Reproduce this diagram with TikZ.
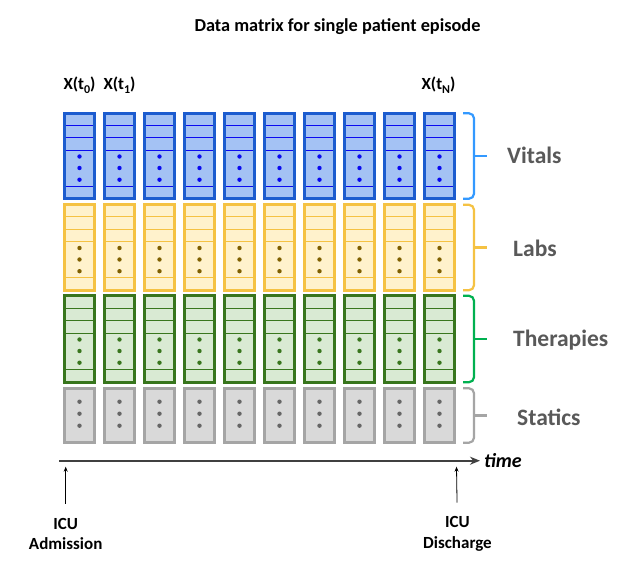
\documentclass[tikz,border=0pt]{standalone}
\usepackage{fontspec}
\setmainfont{Carlito}
\usetikzlibrary{arrows.meta,positioning,calc}
\definecolor{vitalsbg}{HTML}{A4C2F4}
\definecolor{vitalsedge}{HTML}{1C5CCF}
\definecolor{vitalsrule}{HTML}{0A0AF0}
\definecolor{vitalsbrace}{HTML}{3399FF}
\definecolor{labsbg}{HTML}{FFF2CC}
\definecolor{labsedge}{HTML}{F5C243}
\definecolor{labsdot}{HTML}{7F6000}
\definecolor{therbg}{HTML}{D9EAD3}
\definecolor{theredge}{HTML}{38761D}
\definecolor{therbrace}{HTML}{00B050}
\definecolor{statbg}{HTML}{D9D9D9}
\definecolor{statedge}{HTML}{A5A5A5}
\definecolor{statdot}{HTML}{666666}
\definecolor{labelgray}{HTML}{595959}
\definecolor{axisgray}{HTML}{404040}

\newcommand{\tsub}[1]{\raisebox{-4pt}{\fontsize{12}{12}\selectfont #1}}

\tikzset{
  cell/.style={rectangle,line width=2.7pt,minimum width=30pt,inner sep=0pt,outer sep=0pt},
  vitalscell/.style={cell,fill=vitalsbg,draw=vitalsedge,minimum height=85.4pt},
  labscell/.style={cell,fill=labsbg,draw=labsedge,minimum height=85.4pt},
  thercell/.style={cell,fill=therbg,draw=theredge,minimum height=86.4pt},
  statcell/.style={cell,fill=statbg,draw=statedge,minimum height=54.4pt},
  rowline/.style={line width=1pt,shorten <=1.3pt,shorten >=1.3pt},
  bracket/.style={line width=2.2pt,rounded corners=5pt},
  grouplabel/.style={anchor=base west,inner sep=0pt,text=labelgray,
                     font=\fontsize{23.5}{28}\selectfont\bfseries},
  smalltext/.style={font=\fontsize{17}{20.5}\selectfont\bfseries,align=center,inner sep=0pt},
  axisline/.style={line width=2pt,draw=axisgray,-{Stealth[length=10pt,width=8pt]}},
  tickarrow/.style={line width=0.8pt,-{Stealth[length=5pt,width=4pt]}},
}

\begin{document}
\begin{tikzpicture}[x=1pt,y=-1pt]
  \useasboundingbox[fill=white] (0,0) rectangle (637,571);

  \node[smalltext,anchor=base,font=\fontsize{18.3}{22}\selectfont\bfseries] (title)
    at (337.5,31.7) {Data matrix for single patient episode};

  % one column per time step
  \foreach \i in {0,...,9} {
    \node[vitalscell] (v\i) at ({79.5+40*\i},156) {};
    \node[labscell] (l\i) at ({79.5+40*\i},247.5) {};
    \node[thercell] (th\i) at ({79.5+40*\i},339) {};
    \node[statcell] (s\i) at ({79.5+40*\i},415.5) {};
    \foreach \g/\c in {v/vitalsrule,l/labsedge,th/theredge}
      \foreach \dy in {-31,-18.5,-6,30}
        \draw[rowline,\c] ($(\g\i.west)+(0,\dy)$) -- ($(\g\i.east)+(0,\dy)$);
    \foreach \g/\c in {v/vitalsrule,l/labsdot,th/theredge}
      \foreach \dy in {0.5,12,23.7}
        \fill[\c] ($(\g\i.center)+(0,\dy)$) circle[radius=2.2pt];
    \foreach \dy in {-13.8,-1.8,10.2}
      \fill[statdot] ($(s\i.center)+(0,\dy)$) circle[radius=2.2pt];
  }

  \node[smalltext,anchor=base] (x0) at ($(v0.north)+(0,-23.9)$) {X(t\tsub{0})};
  \node[smalltext,anchor=base] (x1) at ($(v1.north)+(0,-23.9)$) {X(t\tsub{1})};
  \node[smalltext,anchor=base] (xn) at ($(v9.north)+(-1,-23.9)$) {X(t\tsub{N})};

  % braces and group names
  \foreach \g/\c in {v9/vitalsbrace,l9/labsedge,th9/therbrace,s9/statedge} {
    \draw[bracket,\c] ($(\g.north east)+(8.5,0)$) -| ($(\g.east)+(19.5,0)$)
      |- ($(\g.south east)+(8.5,0)$);
    \draw[line width=2.2pt,\c] ($(\g.east)+(19.5,0)$) -- ++(13,0);
  }
  \node[grouplabel] (vitals) at (507,163.5) {Vitals};
  \node[grouplabel] (labs) at (513,256) {Labs};
  \node[grouplabel] (therapies) at (513,346.7) {Therapies};
  \node[grouplabel] (statics) at (517,425) {Statics};

  % time axis
  \coordinate (start) at (59,460.7);
  \node[anchor=west,inner sep=4pt,font=\fontsize{20}{24}\selectfont\bfseries\itshape]
    (time) at (480,460.7) {time};
  \draw[axisline] (start) -- (time);

  \coordinate (admit) at (65.7,466.7);
  \coordinate (disch) at (456.5,466.7);
  \node[smalltext] (adm) at (65.7,534) {ICU\\Admission};
  \node[smalltext] (dis) at (457.5,534) {ICU\\Discharge};
  \draw[tickarrow,shorten <=14pt] (adm) -- (admit);
  \draw[tickarrow,shorten <=14pt] (dis) -- (disch);
\end{tikzpicture}
\end{document}
